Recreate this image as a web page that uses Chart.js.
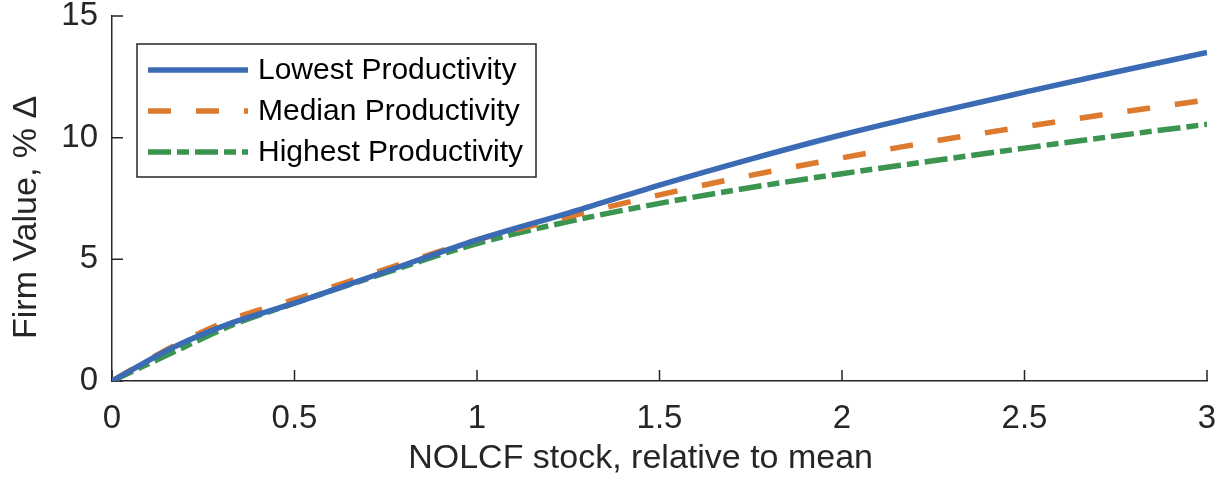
<!DOCTYPE html>
<html>
<head>
<meta charset="utf-8">
<script src="https://cdn.jsdelivr.net/npm/chart.js@4/dist/chart.umd.min.js"></script>
<style>
    html, body { margin: 0; padding: 0; background: #fff; }
    #wrap { width: 1230px; height: 487px; }
</style>
</head>
<body>
<div id="wrap"><canvas id="firmChart" width="1230" height="487"></canvas></div>
<script>
// NOLCF stock relative to mean, and firm value change (%) per productivity group
const stockLevels = [0, 0.17, 0.33, 0.5, 0.75, 1, 1.25, 1.5, 1.75, 2, 2.25, 2.5, 2.75, 3];
const lowestProd  = [0, 1.4, 2.4, 3.2, 4.5, 5.8, 6.9, 8.05, 9.12, 10.12, 11.02, 11.87, 12.7, 13.5];
const medianProd  = [0, 1.45, 2.55, 3.35, 4.6, 5.8, 6.75, 7.65, 8.45, 9.17, 9.85, 10.45, 11.02, 11.55];
const highestProd = [0, 1.2, 2.3, 3.2, 4.45, 5.65, 6.55, 7.3, 7.95, 8.52, 9.05, 9.57, 10.07, 10.55];

const seriesNames = ['Lowest Productivity', 'Median Productivity', 'Highest Productivity'];
const xTickValues = [0, 0.5, 1, 1.5, 2, 2.5, 3];
const yTickValues = [0, 5, 10, 15];

const axisColor = '#262626';
const fontFamily = '"Liberation Sans", Arial, sans-serif';

function toPoints(values) {
    return stockLevels.map(function(x, i) { return { x: x, y: values[i] }; });
}

// small inward tick marks, like the original figure
const inwardTicks = {
    id: 'inwardTicks',
    beforeDatasetsDraw: function(chart) {
        const ctx = chart.ctx;
        const xs = chart.scales.x, ys = chart.scales.y;
        const area = chart.chartArea;
        ctx.save();
        ctx.strokeStyle = axisColor;
        ctx.lineWidth = 1.5;
        ctx.beginPath();
        xs.ticks.forEach(function(t) {
            const px = xs.getPixelForValue(t.value);
            ctx.moveTo(px, area.bottom);
            ctx.lineTo(px, area.bottom - 11);
        });
        ys.ticks.forEach(function(t) {
            const py = ys.getPixelForValue(t.value);
            ctx.moveTo(area.left, py);
            ctx.lineTo(area.left + 11, py);
        });
        ctx.stroke();
        ctx.restore();
    }
};

// boxed legend in the upper left of the plot
const boxLegend = {
    id: 'boxLegend',
    afterDatasetsDraw: function(chart) {
        const ctx = chart.ctx;
        const area = chart.chartArea;
        const left = area.left + 25, top = area.top + 28;
        const w = 399, h = 133;
        ctx.save();
        ctx.fillStyle = '#ffffff';
        ctx.fillRect(left, top, w, h);
        ctx.strokeStyle = axisColor;
        ctx.lineWidth = 1.5;
        ctx.strokeRect(left, top, w, h);
        ctx.font = '30px ' + fontFamily;
        ctx.textBaseline = 'middle';
        chart.data.datasets.forEach(function(ds, i) {
            const y = top + 26 + i * 41;
            ctx.strokeStyle = ds.borderColor;
            ctx.lineWidth = ds.borderWidth;
            ctx.setLineDash(ds.borderDash || []);
            ctx.beginPath();
            ctx.moveTo(left + 11, y);
            ctx.lineTo(left + 111, y);
            ctx.stroke();
            ctx.setLineDash([]);
            ctx.fillStyle = '#000000';
            ctx.fillText(ds.label, left + 121, y + 1);
        });
        ctx.restore();
    }
};

const ctx = document.getElementById('firmChart');
const firmChart = new Chart(ctx, {
    type: 'line',
    data: {
        datasets: [{
            label: seriesNames[0],
            data: toPoints(lowestProd),
            borderColor: '#3a6bb4',
            borderWidth: 5.5
        }, {
            label: seriesNames[1],
            data: toPoints(medianProd),
            borderColor: '#dd7a2e',
            borderWidth: 5.5,
            borderDash: [23, 25]
        }, {
            label: seriesNames[2],
            data: toPoints(highestProd),
            borderColor: '#3b9550',
            borderWidth: 5.5,
            borderDash: [23, 6, 12, 6]
        }]
    },
    options: {
        responsive: false,
        animation: false,
        devicePixelRatio: 1,
        layout: { padding: { top: 16, right: 23, left: 0, bottom: 0 } },
        elements: {
            point: { radius: 0 },
            line: { cubicInterpolationMode: 'monotone', borderCapStyle: 'butt' }
        },
        plugins: {
            legend: { display: false },
            tooltip: { enabled: false }
        },
        scales: {
            x: {
                type: 'linear',
                min: 0,
                max: 3,
                afterFit: function(scale) {
                    scale.height = 106;
                    scale.paddingLeft = 0;
                    scale.paddingRight = 0;
                },
                afterBuildTicks: function(scale) {
                    scale.ticks = xTickValues.map(function(v) { return { value: v }; });
                },
                grid: { display: false, drawTicks: false },
                border: { display: true, color: axisColor, width: 1.5 },
                ticks: {
                    color: axisColor,
                    padding: 18,
                    maxRotation: 0,
                    font: { family: fontFamily, size: 33 },
                    callback: function(v) { return String(v); }
                },
                title: {
                    display: true,
                    // trailing spaces nudge the label left, as in the original
                    text: 'NOLCF stock, relative to mean    ',
                    color: axisColor,
                    font: { family: fontFamily, size: 34 },
                    padding: { top: 0, bottom: 8 }
                }
            },
            y: {
                type: 'linear',
                min: 0,
                max: 15,
                afterFit: function(scale) {
                    scale.width = 112;
                    scale.paddingTop = 0;
                    scale.paddingBottom = 0;
                },
                afterBuildTicks: function(scale) {
                    scale.ticks = yTickValues.map(function(v) { return { value: v }; });
                },
                grid: { display: false, drawTicks: false },
                border: { display: true, color: axisColor, width: 1.5 },
                ticks: {
                    color: axisColor,
                    padding: 14,
                    font: { family: fontFamily, size: 33 },
                    callback: function(v) { return String(v); }
                },
                title: {
                    display: true,
                    text: 'Firm Value, % Δ    ',
                    color: axisColor,
                    font: { family: fontFamily, size: 34 },
                    padding: { top: 6, bottom: 0 }
                }
            }
        }
    },
    plugins: [inwardTicks, boxLegend]
});
</script>
</body>
</html>
